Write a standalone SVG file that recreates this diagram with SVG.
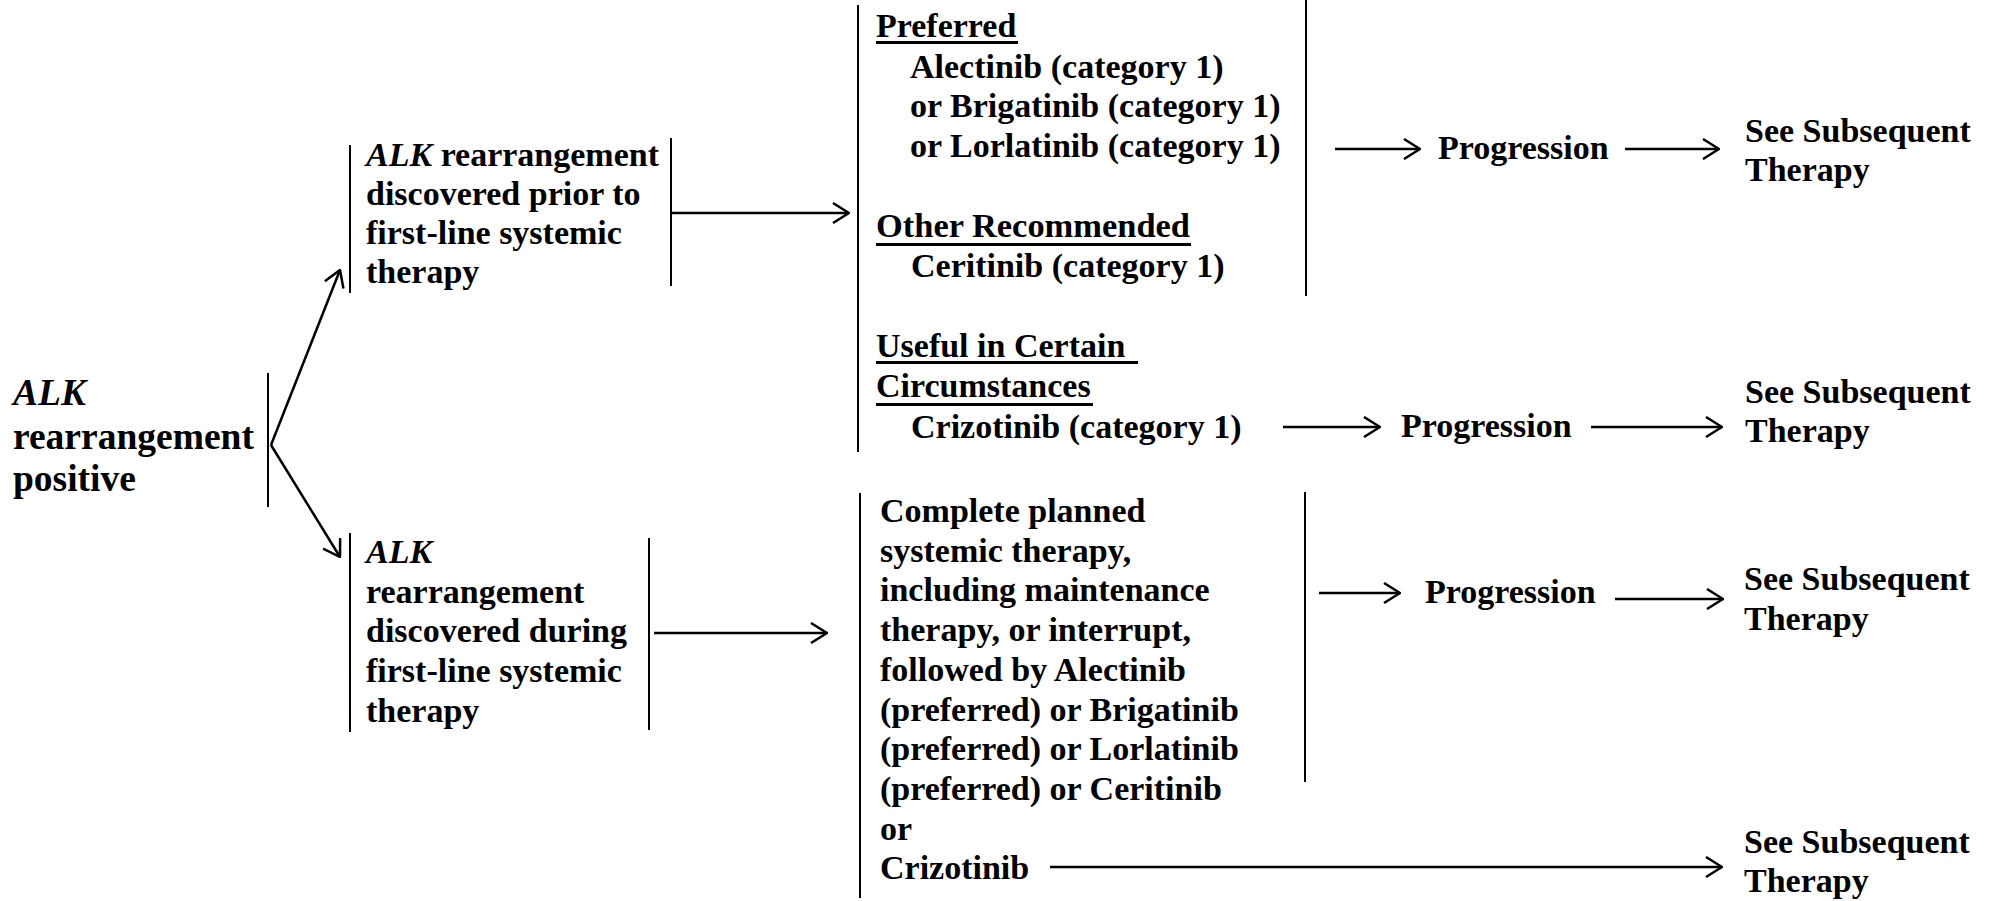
<svg xmlns="http://www.w3.org/2000/svg" width="2000" height="901" viewBox="0 0 2000 901">
  <style>
    text { font-family: "Liberation Serif", "Times New Roman", serif; font-weight: bold; font-size: 34px; fill: #000; }
    .big { font-size: 37.5px; }
    .it { font-style: italic; }
    .bar { stroke: #000; stroke-width: 2; fill: none; }
    .ul { stroke: #000; stroke-width: 3; }
    .conn line { stroke: #000; stroke-width: 2.5; fill: none; marker-end: url(#ah); }
  </style>
  <defs>
    <marker id="ah" markerUnits="userSpaceOnUse" viewBox="0 0 18 22" refX="17" refY="11" markerWidth="18" markerHeight="22" orient="auto">
      <path d="M1,1 L17,11 L1,21" fill="none" stroke="#000" stroke-width="2.5"/>
    </marker>
  </defs>
  <rect width="2000" height="901" fill="#fff"/>

  <!-- starting condition -->
  <g id="n-alk-positive">
    <text class="big"><tspan x="13" y="405" class="it">ALK</tspan><tspan x="13" y="449">rearrangement</tspan><tspan x="13" y="491">positive</tspan></text>
    <line class="bar" x1="268" y1="373" x2="268" y2="507"/>
  </g>

  <!-- discovered before first-line therapy -->
  <g id="n-prior">
    <line class="bar" x1="350" y1="145" x2="350" y2="293"/>
    <text><tspan x="366" y="166"><tspan class="it">ALK</tspan> rearrangement</tspan><tspan x="366" y="205">discovered prior to</tspan><tspan x="366" y="244">first-line systemic</tspan><tspan x="366" y="283">therapy</tspan></text>
    <line class="bar" x1="671" y1="138" x2="671" y2="286"/>
  </g>

  <!-- discovered during first-line therapy -->
  <g id="n-during">
    <line class="bar" x1="350" y1="533" x2="350" y2="732"/>
    <text><tspan x="366" y="563" class="it">ALK</tspan><tspan x="366" y="603">rearrangement</tspan><tspan x="366" y="642">discovered during</tspan><tspan x="366" y="682">first-line systemic</tspan><tspan x="366" y="722">therapy</tspan></text>
    <line class="bar" x1="649" y1="538" x2="649" y2="730"/>
  </g>

  <!-- first-line options -->
  <g id="n-first-line">
    <line class="bar" x1="858" y1="5" x2="858" y2="452"/>
    <line class="bar" x1="1306" y1="0" x2="1306" y2="296"/>
    <text x="876" y="37">Preferred</text>
    <line class="ul" x1="876" y1="42.5" x2="1018" y2="42.5"/>
    <text x="910" y="78">Alectinib (category 1)</text>
    <text x="910" y="117">or Brigatinib (category 1)</text>
    <text x="910" y="157">or Lorlatinib (category 1)</text>
    <text x="876" y="237" textLength="314" lengthAdjust="spacingAndGlyphs">Other Recommended</text>
    <line class="ul" x1="876" y1="244.5" x2="1191" y2="244.5"/>
    <text x="911" y="277">Ceritinib (category 1)</text>
    <text x="876" y="357">Useful in Certain</text>
    <line class="ul" x1="876" y1="362.5" x2="1138" y2="362.5"/>
    <text x="876" y="397">Circumstances</text>
    <line class="ul" x1="876" y1="404.5" x2="1093" y2="404.5"/>
    <text x="911" y="438">Crizotinib (category 1)</text>
  </g>

  <!-- continuation of first-line therapy -->
  <g id="n-complete">
    <line class="bar" x1="860" y1="493" x2="860" y2="898"/>
    <line class="bar" x1="1305" y1="492" x2="1305" y2="782"/>
    <text><tspan x="880" y="522">Complete planned</tspan><tspan x="880" y="561.7">systemic therapy,</tspan><tspan x="880" y="601.4">including maintenance</tspan><tspan x="880" y="641.1">therapy, or interrupt,</tspan><tspan x="880" y="680.8">followed by Alectinib</tspan><tspan x="880" y="720.5">(preferred) or Brigatinib</tspan><tspan x="880" y="760.2">(preferred) or Lorlatinib</tspan><tspan x="880" y="799.9">(preferred) or Ceritinib</tspan><tspan x="880" y="839.6">or</tspan><tspan x="880" y="879.3">Crizotinib</tspan></text>
  </g>

  <g id="n-progression-1"><text x="1438" y="159">Progression</text></g>
  <g id="n-progression-2"><text x="1401" y="437">Progression</text></g>
  <g id="n-progression-3"><text x="1425" y="603">Progression</text></g>

  <g id="n-subsequent-1"><text><tspan x="1745" y="142">See Subsequent</tspan><tspan x="1745" y="181">Therapy</tspan></text></g>
  <g id="n-subsequent-2"><text><tspan x="1745" y="403">See Subsequent</tspan><tspan x="1745" y="442">Therapy</tspan></text></g>
  <g id="n-subsequent-3"><text><tspan x="1744" y="590">See Subsequent</tspan><tspan x="1744" y="630">Therapy</tspan></text></g>
  <g id="n-subsequent-4"><text><tspan x="1744" y="853">See Subsequent</tspan><tspan x="1744" y="892">Therapy</tspan></text></g>

  <!-- connectors -->
  <g id="connectors" class="conn">
    <line x1="271" y1="445" x2="340" y2="270"/>
    <line x1="271" y1="445" x2="340" y2="557"/>
    <line x1="672" y1="213" x2="849" y2="213"/>
    <line x1="654" y1="633" x2="827" y2="633"/>
    <line x1="1335" y1="149" x2="1420" y2="149"/>
    <line x1="1625" y1="149" x2="1719" y2="149"/>
    <line x1="1283" y1="427" x2="1380" y2="427"/>
    <line x1="1591" y1="427" x2="1722" y2="427"/>
    <line x1="1319" y1="593" x2="1400" y2="593"/>
    <line x1="1615" y1="599" x2="1723" y2="599"/>
    <line x1="1050" y1="867" x2="1722" y2="867"/>
  </g>
</svg>
